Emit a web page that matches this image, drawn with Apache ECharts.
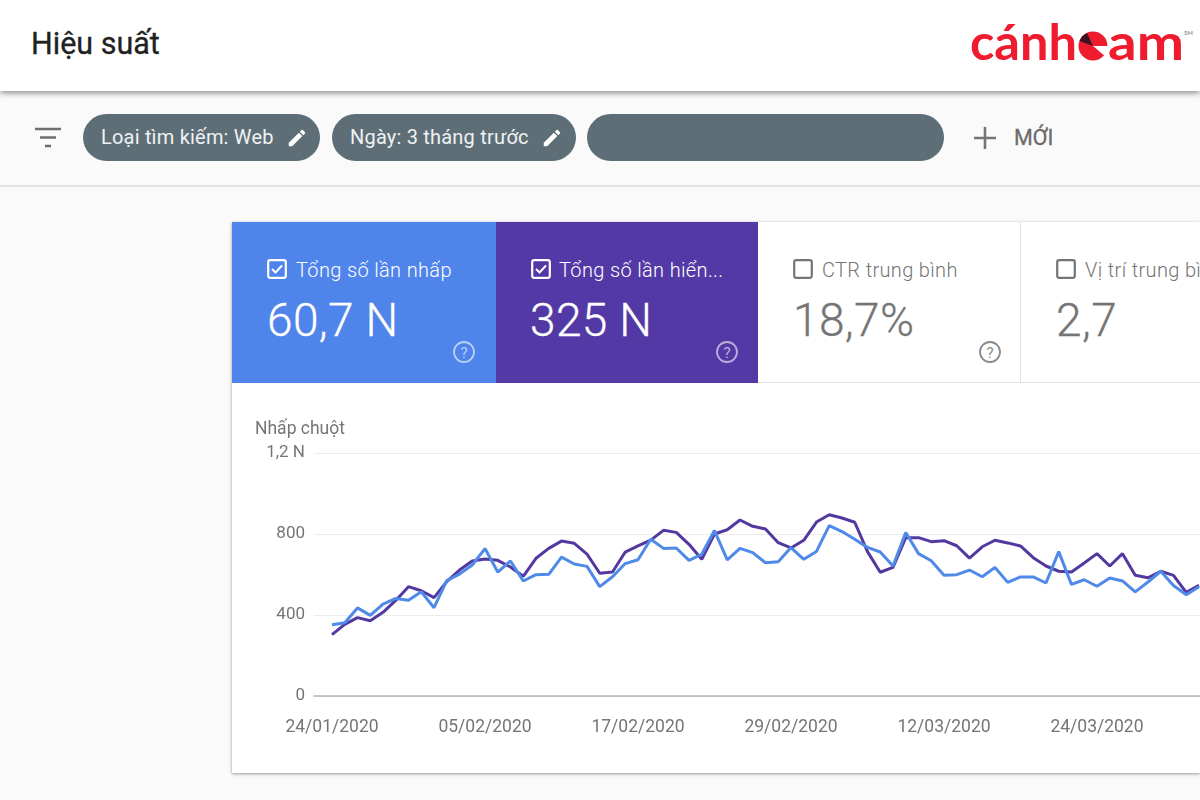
<!DOCTYPE html>
<html lang="vi">
<head>
<meta charset="utf-8">
<title>Hiệu suất</title>
<script src="https://cdn.jsdelivr.net/npm/echarts@6.0.0/dist/echarts.min.js"></script>
<style>
    html, body { margin: 0; width: 1200px; height: 800px; overflow: hidden; background: #fafafa; font-family: Roboto, sans-serif; }
    .abs { position: absolute; white-space: nowrap; }
    #header { left: 0; top: 0; width: 1200px; height: 91px; background: #fff; box-shadow: 0 2px 6px rgba(0,0,0,.45); z-index: 2; }
    #toolbarLine { left: 0; top: 185px; width: 1200px; height: 2px; background: #e2e2e2; }
    .pill { top: 114px; height: 47px; border-radius: 24px; background: #5e6e76; color: #eef2f4; font-size: 20px; line-height: 47px; letter-spacing: .2px; }
    .card { top: 222px; height: 161px; }
    .card .label { top: 36px; font-size: 20px; line-height: 24px; letter-spacing: .35px; font-weight: 300; }
    .card .value { top: 69px; font-size: 46px; line-height: 58px; font-weight: 300; letter-spacing: .4px; -webkit-text-stroke: .3px currentColor; }
    .card svg.box { position: absolute; top: 37px; left: 35px; }
    .card svg.help { position: absolute; top: 118px; left: 220px; }
    #sheet { left: 232px; top: 222px; width: 968px; height: 551px; background: #fff; box-shadow: 0 1px 3px rgba(0,0,0,.4); }
    #chart { left: 232px; top: 383px; width: 968px; height: 390px; }
</style>
</head>
<body>
<div class="abs" id="header">
    <div class="abs" style="left:31px;top:25px;font-size:30.500px;line-height:38px;font-weight:400;color:#212121;-webkit-text-stroke:.3px #212121">Hiệu suất</div>
    <svg class="abs" style="left:960px;top:15px" width="240" height="60" viewBox="960 15 240 60">
        <g fill="#ee1c2e" font-family="Lato" font-weight="700" font-size="50">
            <text x="970" y="60" textLength="107" lengthAdjust="spacingAndGlyphs">cánh</text>
            <text x="1108" y="60" textLength="76" lengthAdjust="spacingAndGlyphs">am</text>
            <path d="M1093 46 L1107.5 46 A14.5 14.5 0 1 1 1093 31.5 Z"/>
            <path d="M1093 46 L1093 31.5 A14.5 14.5 0 0 1 1107.5 46 Z"/>
            <path d="M1093 46 L1109 46 L1106 57 Z" fill="#fff"/>
            <path d="M1093 46 L1079.5 41 A14.5 14.5 0 0 1 1087 33 Z" fill="#3a1420"/>
            <text x="1184" y="35" font-size="6" font-weight="700" fill="#999">SM</text>
        </g>
    </svg>
</div>

<svg class="abs" style="left:34px;top:127px" width="28" height="22"><path d="M1 2h26M6 10.500h16M11 19h6" stroke="#6f6f6f" stroke-width="2.600" fill="none"/></svg>
<div class="abs pill" style="left:83px;width:237px"><span class="abs" style="left:18px">Loại tìm kiếm: Web</span>
    <svg class="abs" style="left:203px;top:13px" width="22" height="22" viewBox="0 0 24 24"><path fill="#fff" d="M3 17.250V21h3.750L17.810 9.940l-3.750-3.750L3 17.250zM20.710 7.040a1 1 0 0 0 0-1.410l-2.340-2.340a1 1 0 0 0-1.410 0l-1.830 1.830 3.750 3.750 1.830-1.830z"/></svg></div>
<div class="abs pill" style="left:332px;width:244px"><span class="abs" style="left:18px">Ngày: 3 tháng trước</span>
    <svg class="abs" style="left:209px;top:13px" width="22" height="22" viewBox="0 0 24 24"><path fill="#fff" d="M3 17.250V21h3.750L17.810 9.940l-3.750-3.750L3 17.250zM20.710 7.040a1 1 0 0 0 0-1.410l-2.340-2.340a1 1 0 0 0-1.410 0l-1.830 1.830 3.750 3.750 1.830-1.830z"/></svg></div>
<div class="abs pill" style="left:587px;width:357px"></div>
<svg class="abs" style="left:973px;top:126px" width="24" height="24"><path d="M12 1v22M1 12h22" stroke="#757575" stroke-width="2.600"/></svg>
<div class="abs" style="left:1014px;top:125px;font-size:21.500px;line-height:26px;font-weight:400;color:#6b6b6b;-webkit-text-stroke:.3px #6b6b6b">MỚI</div>
<div class="abs" id="toolbarLine"></div>

<div class="abs" id="sheet"></div>
<div class="abs" id="chart"></div>

<div class="abs card" style="left:232px;width:264px;background:#4f84ea;color:#fff">
    <svg class="box" width="20" height="20"><rect x="1.200" y="1.200" width="17.600" height="17.600" rx="2" fill="none" stroke="#fff" stroke-width="2.200"/><path d="M5 10l3.500 3.500L15 6.500" fill="none" stroke="#fff" stroke-width="2"/></svg>
    <div class="abs label" style="left:64px">Tổng số lần nhấp</div>
    <div class="abs value" style="left:35px">60,7 N</div>
    <svg class="help" width="24" height="24"><circle cx="12" cy="12" r="10" fill="none" stroke="#fff" stroke-opacity=".6" stroke-width="1.800"/><text x="12" y="17.500" text-anchor="middle" font-size="15" fill="#fff" fill-opacity=".6">?</text></svg>
</div>
<div class="abs card" style="left:496px;width:262px;background:#5339a6;color:#fff">
    <svg class="box" width="20" height="20"><rect x="1.200" y="1.200" width="17.600" height="17.600" rx="2" fill="none" stroke="#fff" stroke-width="2.200"/><path d="M5 10l3.500 3.500L15 6.500" fill="none" stroke="#fff" stroke-width="2"/></svg>
    <div class="abs label" style="left:63px">Tổng số lần hiển...</div>
    <div class="abs value" style="left:34px">325 N</div>
    <svg class="help" width="24" height="24" style="left:219px"><circle cx="12" cy="12" r="10" fill="none" stroke="#fff" stroke-opacity=".6" stroke-width="1.800"/><text x="12" y="17.500" text-anchor="middle" font-size="15" fill="#fff" fill-opacity=".6">?</text></svg>
</div>
<div class="abs card" style="left:758px;width:262px;background:#fff;color:#757575;border-right:1px solid #e4e4e4;border-bottom:1px solid #e4e4e4;height:160px">
    <svg class="box" width="20" height="20"><rect x="1.200" y="1.200" width="17.600" height="17.600" rx="2" fill="none" stroke="#757575" stroke-width="2.200"/></svg>
    <div class="abs label" style="left:64px">CTR trung bình</div>
    <div class="abs value" style="left:35px">18,7%</div>
    <svg class="help" width="24" height="24"><circle cx="12" cy="12" r="10" fill="none" stroke="#8a8a8a" stroke-width="1.800"/><text x="12" y="17.500" text-anchor="middle" font-size="15" fill="#8a8a8a">?</text></svg>
</div>
<div class="abs card" style="left:1021px;width:179px;background:#fff;color:#757575;border-bottom:1px solid #e4e4e4;height:160px;overflow:hidden">
    <svg class="box" width="20" height="20"><rect x="1.200" y="1.200" width="17.600" height="17.600" rx="2" fill="none" stroke="#757575" stroke-width="2.200"/></svg>
    <div class="abs label" style="left:64px">Vị trí trung bình</div>
    <div class="abs value" style="left:35px">2,7</div>
</div>

<script>
// Values, one per day counted from 24/01/2020
const clicks = [
    352, 362, 435, 398, 454, 482, 473, 515, 436, 570, 602, 647, 728, 612, 667, 568, 599, 601, 686, 652, 640, 540, 589,
    654, 673, 774, 729, 731, 670, 700, 817, 672, 729, 708, 658, 663, 733, 675, 714, 841, 812, 774, 734, 711, 642, 807,
    703, 668, 596, 599, 622, 589, 635, 561, 588, 588, 558, 713, 551, 574, 542, 583, 568, 514, 563, 616, 546, 500, 540
];
const impressions = [
    303, 354, 387, 372, 413, 472, 540, 520, 486, 565, 622, 667, 677, 670, 637, 591, 680, 729, 765, 754, 701, 606, 612,
    711, 741, 770, 818, 808, 749, 675, 800, 821, 869, 838, 825, 757, 731, 769, 859, 895, 879, 858, 713, 611, 635, 782,
    782, 762, 767, 742, 681, 737, 769, 756, 741, 683, 642, 616, 612, 657, 703, 642, 703, 596, 584, 616, 596, 512, 547
];
const tickDays = [0, 12, 24, 36, 48, 60];
const tickLabels = ['24/01/2020', '05/02/2020', '17/02/2020', '29/02/2020', '12/03/2020', '24/03/2020'];
const yTicks = { 0: '0', 400: '400', 800: '800', 1200: '1,2 N' };

const toPoints = values => values.map((v, day) => [day, v]);

const chart = echarts.init(document.getElementById('chart'));
chart.setOption({
    animation: false,
    textStyle: { fontFamily: 'Roboto' },
    title: {
        text: 'Nhấp chuột',
        left: 18,
        top: 33,
        textStyle: { fontSize: 17.5, fontWeight: 400, color: '#757575', fontFamily: 'Roboto' }
    },
    grid: { left: 82, right: 0, top: 70, height: 243 },
    xAxis: {
        type: 'value',
        // 18px of gridline sits left of the first day, 12.75px per day
        min: -18 / 12.75,
        max: 68.08,
        axisLine: { show: true, lineStyle: { color: '#b5b5b5', width: 1.5 } },
        axisTick: { show: false },
        splitLine: { show: false },
        axisLabel: {
            customValues: tickDays,
            formatter: value => tickLabels[tickDays.indexOf(value)],
            color: '#757575',
            fontSize: 17.5,
            margin: 23,
            hideOverlap: false
        }
    },
    yAxis: {
        type: 'value',
        min: 0,
        max: 1200,
        interval: 400,
        axisLine: { show: false },
        axisTick: { show: false },
        axisLabel: {
            formatter: value => yTicks[value],
            color: '#757575',
            fontSize: 17,
            margin: 9,
            padding: [4, 0, 0, 0]
        },
        splitLine: { lineStyle: { color: '#ececec', width: 1 } }
    },
    series: [
        {
            name: 'Tổng số lần hiển thị',
            type: 'line',
            data: toPoints(impressions),
            showSymbol: false,
            lineStyle: { color: '#53399f', width: 3 }
        },
        {
            name: 'Tổng số lần nhấp',
            type: 'line',
            data: toPoints(clicks),
            showSymbol: false,
            lineStyle: { color: '#4f8ae8', width: 3 }
        }
    ]
});
</script>
</body>
</html>
